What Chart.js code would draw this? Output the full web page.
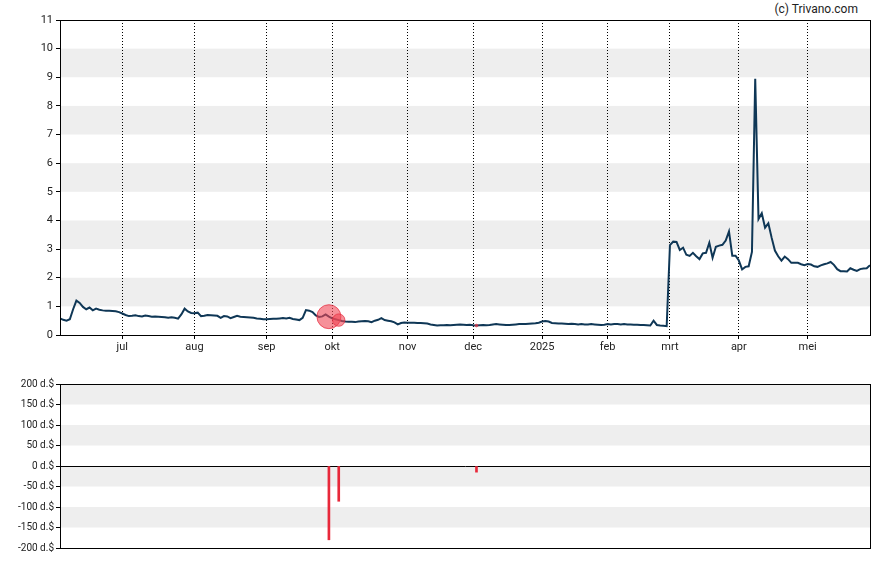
<!DOCTYPE html>
<html>
<head>
<meta charset="utf-8">
<script src="https://cdn.jsdelivr.net/npm/chart.js@4.4.1/dist/chart.umd.min.js"></script>
<style>
  body { margin: 0; background: #fff; width: 888px; height: 565px; position: relative; overflow: hidden; font-family: Roboto, sans-serif; }
  #priceChart { position: absolute; left: 0; top: 0; }
  #insiderChart { position: absolute; left: 0; top: 370px; }
  #credit { position: absolute; right: 30px; top: 2px; font-size: 12px; color: #222; }
</style>
</head>
<body>
<div id="credit">(c) Trivano.com</div>
<canvas id="priceChart" width="888" height="362"></canvas>
<canvas id="insiderChart" width="888" height="195"></canvas>
<script>
// handelsdagen: index 0 = 3 juni 2024, laatste = 29 mei 2025
var monthTickIdx = [19, 41, 63, 83, 106, 126, 147, 167, 186, 207, 228];
var monthLabels = ['jul', 'aug', 'sep', 'okt', 'nov', 'dec', '2025', 'feb', 'mrt', 'apr', 'mei'];

var priceValues = [
  0.58,0.53,0.5,0.55,0.9,1.2,1.12,0.98,0.9,0.96,
  0.86,0.92,0.88,0.86,0.85,0.85,0.84,0.83,0.8,0.75,
  0.7,0.66,0.67,0.69,0.66,0.65,0.68,0.66,0.64,0.65,
  0.64,0.63,0.62,0.6,0.62,0.6,0.57,0.72,0.92,0.82,
  0.77,0.76,0.78,0.66,0.67,0.7,0.69,0.68,0.67,0.6,
  0.66,0.65,0.59,0.63,0.67,0.64,0.63,0.62,0.61,0.6,
  0.58,0.57,0.55,0.55,0.56,0.57,0.57,0.58,0.59,0.58,
  0.6,0.56,0.54,0.52,0.6,0.87,0.85,0.8,0.68,0.63,
  0.65,0.72,0.64,0.58,0.55,0.52,0.49,0.47,0.46,0.46,
  0.45,0.47,0.48,0.49,0.48,0.45,0.5,0.53,0.59,0.52,
  0.5,0.48,0.44,0.37,0.42,0.44,0.43,0.43,0.43,0.42,
  0.42,0.41,0.4,0.37,0.35,0.33,0.34,0.34,0.35,0.34,
  0.35,0.36,0.37,0.36,0.35,0.36,0.34,0.33,0.34,0.35,
  0.34,0.35,0.37,0.38,0.37,0.36,0.35,0.35,0.36,0.37,
  0.38,0.38,0.38,0.39,0.4,0.41,0.43,0.47,0.49,0.47,
  0.42,0.41,0.4,0.4,0.39,0.38,0.39,0.38,0.37,0.38,
  0.37,0.37,0.38,0.37,0.36,0.35,0.36,0.38,0.37,0.38,
  0.38,0.37,0.38,0.37,0.37,0.36,0.36,0.35,0.35,0.34,
  0.33,0.5,0.35,0.33,0.32,0.31,3.14,3.26,3.25,2.97,
  3.05,2.8,2.76,2.87,2.75,2.65,2.85,2.87,3.22,2.7,
  3.08,3.12,3.15,3.3,3.62,2.77,2.77,2.6,2.29,2.38,
  2.4,2.9,8.95,4.05,4.25,3.75,3.9,3.4,2.95,2.75,
  2.6,2.74,2.65,2.52,2.52,2.52,2.47,2.44,2.48,2.46,
  2.4,2.38,2.43,2.47,2.5,2.55,2.45,2.3,2.23,2.23,
  2.22,2.33,2.28,2.24,2.3,2.32,2.33,2.44
];

// insider transacties (d.$)
var insiderIdx = [82, 85, 127];
var insiderValues = [-180, -86, -15];

var priceTicks = [0,1,2,3,4,5,6,7,8,9,10,11];
var insiderTicks = [-200,-150,-100,-50,0,50,100,150,200];

var lastIdx = priceValues.length - 1;

// grijze banden (onder het grid) + kader
var bandsPlugin = {
  id: 'bands',
  beforeDraw: function(chart, args, opts) {
    var c = chart.ctx, a = chart.chartArea, y = chart.scales.y;
    c.save();
    c.fillStyle = '#eeeeee';
    opts.ranges.forEach(function(r) {
      var y1 = y.getPixelForValue(r[1]), y0 = y.getPixelForValue(r[0]);
      c.fillRect(a.left, y1, a.right - a.left, y0 - y1);
    });
    c.restore();
  },
  afterDraw: function(chart) {
    var c = chart.ctx, a = chart.chartArea;
    c.save();
    c.strokeStyle = '#000';
    c.lineWidth = 1;
    c.strokeRect(Math.round(a.left) + 0.5, Math.round(a.top) + 0.5, Math.round(a.right - a.left), Math.round(a.bottom - a.top));
    c.restore();
  }
};

var tickFont = { family: 'Roboto', size: 11 };

var bubbleData = insiderIdx.map(function(ix, k) {
  return { x: ix, y: priceValues[ix], r: 12 * Math.pow(Math.abs(insiderValues[k]) / 180, 0.9) };
});

var ctx = document.getElementById('priceChart').getContext('2d');
var priceChart = new Chart(ctx, {
  type: 'line',
  data: {
    datasets: [{
      type: 'bubble',
      data: bubbleData,
      backgroundColor: 'rgba(240, 70, 85, 0.6)',
      borderColor: 'rgba(230, 40, 60, 0.7)',
      borderWidth: 1,
      order: 0
    }, {
      data: priceValues.map(function(v, i) { return { x: i, y: v }; }),
      borderColor: '#0f3756',
      borderWidth: 2,
      pointRadius: 0,
      tension: 0,
      fill: false,
      order: 1
    }]
  },
  options: {
    responsive: false,
    animation: false,
    layout: { padding: { top: 20, right: 18, left: 0, bottom: 0 } },
    plugins: {
      legend: { display: false },
      tooltip: { enabled: false },
      bands: { ranges: [[1,2],[3,4],[5,6],[7,8],[9,10]] }
    },
    scales: {
      x: {
        type: 'linear',
        min: 0,
        max: lastIdx,
        offset: false,
        afterBuildTicks: function(scale) {
          scale.ticks = monthTickIdx.map(function(v) { return { value: v }; });
        },
        afterFit: function(scale) { scale.height = 27; },
        ticks: {
          autoSkip: false,
          maxRotation: 0,
          color: '#222',
          font: tickFont,
          padding: 2,
          callback: function(v) { return monthLabels[monthTickIdx.indexOf(v)]; }
        },
        grid: { color: '#000', lineWidth: 1, tickLength: 4 },
        border: { color: '#000', dash: [1, 2] }
      },
      y: {
        min: 0,
        max: 11,
        afterBuildTicks: function(scale) {
          scale.ticks = priceTicks.map(function(v) { return { value: v }; });
        },
        afterFit: function(scale) { scale.width = 60; },
        ticks: { color: '#222', font: tickFont, padding: 3 },
        grid: { color: 'rgba(0,0,0,0)', tickColor: '#000', tickLength: 4 },
        border: { color: '#000' }
      }
    }
  },
  plugins: [bandsPlugin]
});

var ctx2 = document.getElementById('insiderChart').getContext('2d');
var insiderChart = new Chart(ctx2, {
  type: 'bar',
  data: {
    datasets: [{
      data: insiderIdx.map(function(ix, k) { return { x: ix, y: insiderValues[k] }; }),
      backgroundColor: '#e8283a',
      barThickness: 2
    }]
  },
  options: {
    responsive: false,
    animation: false,
    layout: { padding: { top: 14, right: 18, left: 0, bottom: 17 } },
    plugins: {
      legend: { display: false },
      tooltip: { enabled: false },
      bands: { ranges: [[150,200],[50,100],[-50,0],[-150,-100]] }
    },
    scales: {
      x: { type: 'linear', min: 0, max: lastIdx, offset: false, display: false },
      y: {
        min: -200,
        max: 200,
        afterBuildTicks: function(scale) {
          scale.ticks = insiderTicks.map(function(v) { return { value: v }; });
        },
        afterFit: function(scale) { scale.width = 60; },
        ticks: {
          color: '#222',
          font: { family: 'Roboto', size: 10 },
          padding: 2,
          callback: function(v) { return v + ' d.$'; }
        },
        grid: {
          color: function(c) { return c.tick && c.tick.value === 0 ? '#000' : 'rgba(0,0,0,0)'; },
          tickColor: '#000',
          tickLength: 4
        },
        border: { color: '#000' }
      }
    }
  },
  plugins: [bandsPlugin]
});
</script>
</body>
</html>
